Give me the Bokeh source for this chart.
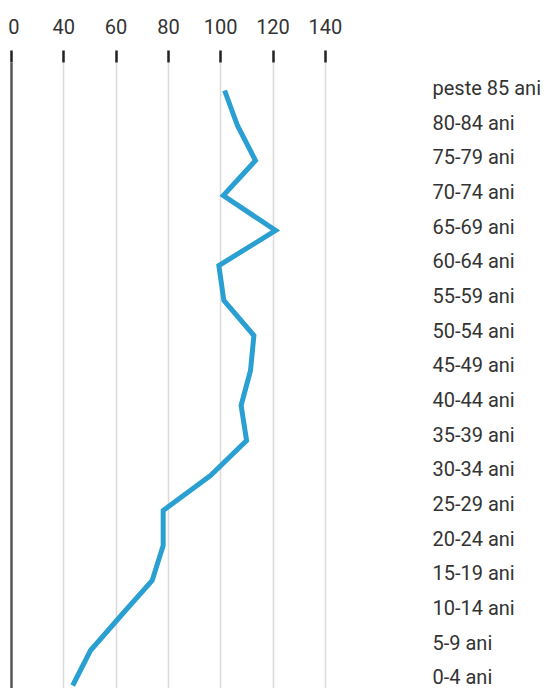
from bokeh.plotting import figure
from bokeh.models import Range1d, LinearAxis, FixedTicker, Span, ColumnDataSource
from bokeh.embed import file_html
from bokeh.resources import INLINE

# Age groups, bottom to top
ages = ["0-4 ani", "5-9 ani", "10-14 ani", "15-19 ani", "20-24 ani", "25-29 ani",
        "30-34 ani", "35-39 ani", "40-44 ani", "45-49 ani", "50-54 ani", "55-59 ani",
        "60-64 ani", "65-69 ani", "70-74 ani", "75-79 ani", "80-84 ani", "peste 85 ani"]
values = [43.4, 50.2, 61.9, 73.8, 78.0, 78.0,
          96.1, 109.9, 107.8, 111.4, 112.7, 101.2,
          99.3, 121.0, 101.0, 113.3, 106.4, 101.5]
x_ticks = [20, 40, 60, 80, 100, 120, 140]
x_tick_labels = ["\u00a00", "40", "60", "80", "100", "120", "140"]

pos = list(range(len(ages)))
src = ColumnDataSource(data=dict(v=values, i=pos))

FONT = "Roboto"
TXT = "#333333"

p = figure(width=550, height=688, output_backend="svg", toolbar_location=None,
           x_range=Range1d(15.793, 177.17), y_range=Range1d(-0.0857, 17.8),
           x_axis_location="above", y_axis_location=None,
           min_border_left=0, min_border_top=62, min_border_bottom=0, min_border_right=128)
p.outline_line_color = None
p.background_fill_color = "white"
p.border_fill_color = "white"

p.extra_y_ranges = {"lab": Range1d(-0.326, 17.74)}

# top axis
xa = p.xaxis[0]
xa.ticker = FixedTicker(ticks=x_ticks)
xa.major_label_overrides = {t: l for t, l in zip(x_ticks, x_tick_labels)}
xa.axis_line_color = None
xa.minor_tick_line_color = None
xa.major_tick_out = 12
xa.major_tick_in = 0
xa.major_tick_line_color = "#222222"
xa.major_tick_line_width = 2.5
xa.major_label_standoff = 12
xa.major_label_text_font = FONT
xa.major_label_text_font_size = "20px"
xa.major_label_text_color = TXT

# vertical grid
p.xgrid.ticker = FixedTicker(ticks=x_ticks[1:])
p.xgrid.grid_line_color = "#dadada"
p.xgrid.grid_line_width = 1.5
p.ygrid.visible = False

p.add_layout(Span(location=x_ticks[0], dimension="height", line_color="#555555", line_width=2.5))

# right category labels
ya = LinearAxis(y_range_name="lab")
ya.ticker = FixedTicker(ticks=pos)
ya.major_label_overrides = {i: a for i, a in zip(pos, ages)}
ya.axis_line_color = None
ya.major_tick_line_color = None
ya.minor_tick_line_color = None
ya.major_tick_out = 0
ya.major_tick_in = 0
ya.major_label_standoff = 10
ya.major_label_text_font = FONT
ya.major_label_text_font_size = "20px"
ya.major_label_text_color = TXT
p.add_layout(ya, "right")

p.line(x="v", y="i", source=src, line_color="#2aa0d2", line_width=5, line_join="miter")

open("out.html", "w").write(file_html(p, INLINE))
